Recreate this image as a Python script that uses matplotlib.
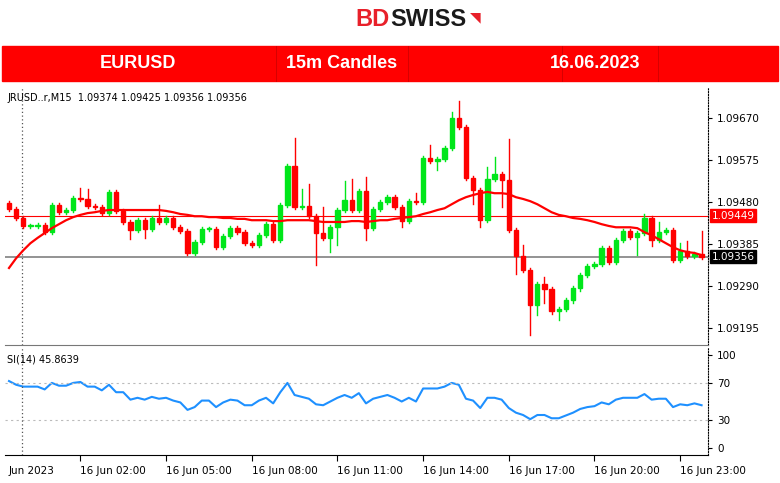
import matplotlib
matplotlib.use("Agg")
import matplotlib.pyplot as plt
from matplotlib.patches import Rectangle

# 15m EURUSD candles, 16.06.2023
first_open = 1.09478
close = [1.09464, 1.09444, 1.09426, 1.09426, 1.09428, 1.09412, 1.09473, 1.09457, 1.09462, 1.09489,
         1.09487, 1.09471, 1.09469, 1.09455, 1.09503, 1.09460, 1.09435, 1.09417, 1.09439, 1.09419,
         1.09444, 1.09435, 1.09444, 1.09423, 1.09414, 1.09365, 1.09390, 1.09419, 1.09419, 1.09378,
         1.09403, 1.09421, 1.09412, 1.09387, 1.09383, 1.09405, 1.09430, 1.09394, 1.09473, 1.09561,
         1.09469, 1.09471, 1.09448, 1.09410, 1.09399, 1.09423, 1.09462, 1.09484, 1.09462, 1.09505,
         1.09421, 1.09464, 1.09480, 1.09491, 1.09469, 1.09437, 1.09482, 1.09480, 1.09580, 1.09573,
         1.09577, 1.09602, 1.09670, 1.09650, 1.09534, 1.09507, 1.09439, 1.09532, 1.09543, 1.09530,
         1.09417, 1.09358, 1.09326, 1.09247, 1.09294, 1.09283, 1.09233, 1.09238, 1.09258, 1.09285,
         1.09315, 1.09335, 1.09340, 1.09376, 1.09344, 1.09394, 1.09414, 1.09401, 1.09410, 1.09444,
         1.09394, 1.09412, 1.09417, 1.09349, 1.09369, 1.09358, 1.09362, 1.09356]
# wick lengths above / below the body (in 1e-5)
wick_up = [5, 5, 5, 5, 5, 5, 5, 5, 5, 5,
           23, 23, 5, 5, 5, 5, 5, 5, 5, 5,
           5, 30, 5, 5, 5, 5, 5, 5, 5, 5,
           5, 5, 5, 5, 5, 5, 5, 5, 5, 5,
           63, 38, 50, 5, 59, 5, 5, 43, 47, 5,
           32, 5, 5, 5, 5, 5, 5, 18, 5, 29,
           5, 5, 14, 38, 5, 5, 5, 27, 38, 5,
           93, 5, 25, 5, 5, 16, 5, 5, 5, 5,
           5, 5, 5, 5, 5, 5, 5, 5, 5, 9,
           5, 23, 5, 5, 18, 23, 5, 52]
wick_dn = [5, 5, 5, 5, 5, 5, 5, 5, 5, 5,
           5, 5, 5, 5, 5, 5, 5, 20, 5, 20,
           5, 5, 5, 5, 5, 5, 5, 5, 5, 5,
           5, 5, 5, 5, 5, 5, 5, 5, 5, 5,
           5, 5, 5, 72, 5, 32, 40, 5, 5, 5,
           27, 5, 5, 5, 5, 14, 5, 5, 5, 5,
           20, 5, 5, 5, 5, 32, 16, 5, 5, 61,
           5, 41, 5, 68, 23, 32, 5, 20, 5, 5,
           5, 5, 5, 5, 5, 5, 5, 5, 40, 5,
           14, 5, 5, 5, 5, 5, 5, 5]
ma = [1.09331, 1.09353, 1.09371, 1.09387, 1.09399, 1.09410, 1.09421, 1.09430, 1.09439, 1.09446,
      1.09451, 1.09455, 1.09457, 1.09460, 1.09462, 1.09462, 1.09462, 1.09462, 1.09462, 1.09462,
      1.09462, 1.09462, 1.09460, 1.09457, 1.09453, 1.09451, 1.09448, 1.09448, 1.09446, 1.09446,
      1.09444, 1.09444, 1.09442, 1.09442, 1.09439, 1.09439, 1.09439, 1.09437, 1.09437, 1.09439,
      1.09439, 1.09439, 1.09439, 1.09437, 1.09435, 1.09435, 1.09435, 1.09435, 1.09437, 1.09437,
      1.09435, 1.09437, 1.09439, 1.09439, 1.09442, 1.09444, 1.09446, 1.09448, 1.09453, 1.09457,
      1.09462, 1.09466, 1.09475, 1.09484, 1.09491, 1.09496, 1.09500, 1.09503, 1.09500, 1.09500,
      1.09498, 1.09491, 1.09487, 1.09482, 1.09475, 1.09466, 1.09457, 1.09451, 1.09448, 1.09444,
      1.09442, 1.09439, 1.09435, 1.09430, 1.09426, 1.09423, 1.09423, 1.09423, 1.09421, 1.09412,
      1.09405, 1.09396, 1.09387, 1.09378, 1.09371, 1.09367, 1.09365, 1.09360]
rsi = [72, 68, 66, 66, 66, 63, 70, 67, 67, 70,
       71, 66, 66, 62, 68, 60, 60, 52, 54, 52,
       55, 53, 54, 51, 49, 41, 44, 51, 51, 44,
       49, 52, 51, 46, 46, 51, 54, 48, 60, 70,
       57, 55, 53, 47, 46, 50, 54, 57, 54, 59,
       48, 53, 55, 57, 54, 50, 54, 50, 64, 64,
       64, 66, 70, 68, 53, 51, 43, 54, 54, 52,
       43, 38, 35.5, 31, 35.5, 35.5, 32, 32, 35, 38,
       42, 44, 45, 49, 47, 52, 54, 54, 54, 58,
       52, 53, 53, 44, 47, 46, 48, 46]
time_pos = [10, 22, 34, 46, 58, 70, 82, 94]
time_labels = ["16 Jun 02:00", "16 Jun 05:00", "16 Jun 08:00", "16 Jun 11:00",
               "16 Jun 14:00", "16 Jun 17:00", "16 Jun 20:00", "16 Jun 23:00"]
price_ticks = [1.09670, 1.09575, 1.09480, 1.09385, 1.09290, 1.09195]
ask_line = 1.09449
bid_line = 1.09356

GREEN = "#00e61a"
RED = "#ff0000"
NARROW = ["Liberation Sans Narrow", "Liberation Sans", "DejaVu Sans"]
W, H = 780, 483
fig = plt.figure(figsize=(W / 100, H / 100), dpi=100)

# header
fig.text(0.5, 1 - 20 / H, "BD", color="#e8202a", fontsize=17, fontweight="bold", ha="right", va="center",
         family=["Liberation Sans", "DejaVu Sans"])
fig.text(0.5, 1 - 20 / H, "SWISS", color="#1a1a1a", fontsize=17, fontweight="bold", ha="left", va="center",
         family=["Liberation Sans", "DejaVu Sans"])
fig.text(0.5 + 80 / W, 1 - 17 / H, "\u25e5", color="#e8202a", fontsize=10, ha="left", va="center")
fig.patches.append(Rectangle((2 / W, 1 - 81 / H), 1 - 4 / W, 35 / H, transform=fig.transFigure,
                             color="#ff0000", zorder=0))
for xs in [276, 408, 562, 658]:
    fig.add_artist(plt.Line2D([xs / W, xs / W], [1 - 81 / H, 1 - 46 / H], color="#d00000", lw=0.6))
for xc, txt in [(138, "EURUSD"), (342, "15m Candles"), (595, "16.06.2023")]:
    fig.text(xc / W, 1 - 64 / H, txt, color="white", fontsize=13, fontweight="bold", ha="center",
             va="center", family=NARROW)

# price panel
ax = fig.add_axes([5 / W, (H - 345) / H, 703 / W, 258 / H])
opens = [first_open] + close[:-1]
for i, (o, c) in enumerate(zip(opens, close)):
    col = GREEN if c >= o else RED
    hi = max(o, c) + wick_up[i] * 1e-5
    lo = min(o, c) - wick_dn[i] * 1e-5
    ax.plot([i, i], [lo, hi], color=col, lw=1, zorder=3)
    ax.add_patch(Rectangle((i - 0.3, min(o, c)), 0.6, max(abs(c - o), 1.5e-5), color=col, zorder=4))
ax.plot(range(len(ma)), ma, color=RED, lw=1.6, zorder=5)
ax.axhline(ask_line, color=RED, lw=0.8, zorder=2)
ax.axhline(bid_line, color="#808080", lw=1.2, zorder=2)
ax.axvline(1.8, color="#555555", lw=0.9, ls=(0, (1, 2)))
ax.set_xlim(-0.56, 97.9)
ax.set_ylim(1.09157, 1.09740)
ax.set_xticks([])
ax.yaxis.tick_right()
ax.set_yticks(price_ticks)
ax.set_yticklabels([f"{p:.5f}" for p in price_ticks], fontsize=7.5)
ax.tick_params(axis="y", length=3, pad=3)
ax.text(1.005, ask_line, f"{ask_line:.5f}", transform=ax.get_yaxis_transform(), fontsize=7.5,
        color="white", va="center", ha="left", bbox=dict(boxstyle="square,pad=0.15", fc=RED, ec=RED))
ax.text(1.005, bid_line, f"{bid_line:.5f}", transform=ax.get_yaxis_transform(), fontsize=7.5,
        color="white", va="center", ha="left", bbox=dict(boxstyle="square,pad=0.15", fc="black", ec="black"))
ax.text(0.003, 0.975, "JRUSD..r,M15  1.09374 1.09425 1.09356 1.09356", transform=ax.transAxes,
        fontsize=7, va="top", ha="left")
ax.spines["right"].set_linestyle((0, (1, 1.5)))
ax.spines["bottom"].set_color("#777777")
for s in ["top", "left"]:
    ax.spines[s].set_visible(False)

# RSI panel
ax2 = fig.add_axes([5 / W, (H - 455) / H, 703 / W, 108 / H])
ax2.plot(range(len(rsi)), rsi, color="#1e90ff", lw=1.5)
ax2.axhline(70, color="#bbbbbb", lw=0.8, ls=(0, (2, 3)))
ax2.axhline(30, color="#bbbbbb", lw=0.8, ls=(0, (2, 3)))
ax2.axvline(1.8, color="#555555", lw=0.9, ls=(0, (1, 2)))
ax2.set_xlim(-0.56, 97.9)
ax2.set_ylim(-7.5, 108.6)
ax2.yaxis.tick_right()
ax2.set_yticks([100, 70, 30, 0])
ax2.tick_params(axis="y", labelsize=7.5, length=3)
ax2.set_xticks(time_pos)
ax2.set_xticklabels([])
ax2.tick_params(axis="x", length=4, direction="out")
for p, lab in zip(time_pos, time_labels):
    ax2.text(p, -0.1, lab, transform=ax2.get_xaxis_transform(), fontsize=7.5, ha="left", va="top")
ax2.text(4 / 703, -0.1, "Jun 2023", transform=ax2.transAxes, fontsize=7.5, ha="left", va="top")
ax2.text(0.003, 0.93, "SI(14) 45.8639", transform=ax2.transAxes, fontsize=7, va="top", ha="left")
ax2.spines["right"].set_linestyle((0, (1, 1.5)))
ax2.spines["top"].set_visible(False)
ax2.spines["left"].set_visible(False)

fig.savefig("out.png", dpi=100)
